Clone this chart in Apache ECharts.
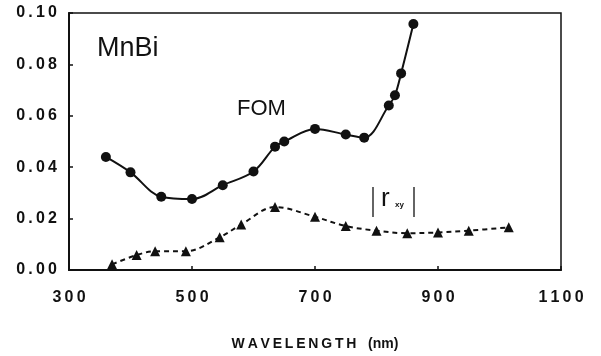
<!DOCTYPE html>
<html><head><meta charset="utf-8">
<script src="https://cdn.jsdelivr.net/npm/echarts@6/dist/echarts.min.js"></script>
<style>html,body{margin:0;padding:0;background:#fff}#c{width:601px;height:356px}</style>
</head><body><div id="c"></div>
<script>
var fomWavelength = [360, 400, 450, 500, 550, 600, 635, 650, 700, 750, 780, 820, 830, 840, 860];
var fomValues = [0.044, 0.038, 0.0285, 0.0276, 0.033, 0.0383, 0.048, 0.050, 0.0549, 0.0527, 0.0515, 0.064, 0.068, 0.0765, 0.0957];
var rxyWavelength = [370, 410, 440, 490, 545, 580, 635, 700, 750, 800, 850, 900, 950, 1015];
var rxyValues = [0.0022, 0.0058, 0.0073, 0.0073, 0.0127, 0.0177, 0.0245, 0.0207, 0.0171, 0.0153, 0.0143, 0.0146, 0.0153, 0.0166];
var xTicks = [300, 500, 700, 900, 1100];
var yTicks = [0.00, 0.02, 0.04, 0.06, 0.08, 0.10];

function pairs(xs, ys){ return xs.map(function(x,i){return [x, ys[i]];}); }
function spaced(s, sp){ return String(s).split('').join(sp); }
var font = '"Liberation Sans", Arial, sans-serif';
var chart = echarts.init(document.getElementById('c'));
chart.setOption({
  animation: false,
  grid: {left: 69, right: 40, top: 13, bottom: 80, show: true, borderColor: '#111', borderWidth: 1.5},
  xAxis: {
    type: 'value', min: 300, max: 1100, interval: 200,
    axisLine: {show: true, lineStyle: {color: '#111', width: 2}},
    axisTick: {show: true, inside: true, length: 4, lineStyle: {color: '#111', width: 1.5}},
    splitLine: {show: false},
    axisLabel: {color: '#111', fontFamily: font, fontWeight: 'bold', fontSize: 16, margin: 20,
      formatter: function(v){ return xTicks.indexOf(v) >= 0 ? spaced(v, '\u2009') : ''; }},
    name: spaced('WAVELENGTH', '\u2009') + '   (nm)', nameLocation: 'middle', nameGap: 67,
    nameTextStyle: {color: '#111', fontFamily: font, fontWeight: 'bold', fontSize: 14}
  },
  yAxis: {
    type: 'value', min: 0, max: 0.1, interval: 0.02,
    axisLine: {show: true, lineStyle: {color: '#111', width: 2}},
    axisTick: {show: true, inside: true, length: 4, lineStyle: {color: '#111', width: 1.5}},
    splitLine: {show: false},
    axisLabel: {color: '#111', fontFamily: font, fontWeight: 'bold', fontSize: 16, margin: 12,
      formatter: function(v){ return spaced(v.toFixed(2), '\u2009'); }}
  },
  series: [
    {type: 'line', data: pairs(fomWavelength, fomValues), smooth: 0.35,
     symbol: 'circle', symbolSize: 10, itemStyle: {color: '#111'},
     lineStyle: {color: '#111', width: 2}},
    {type: 'line', data: pairs(rxyWavelength, rxyValues), smooth: 0.35,
     symbol: 'triangle', symbolSize: 10, itemStyle: {color: '#111'},
     lineStyle: {color: '#111', width: 2, type: [5, 4]}}
  ],
  graphic: [
    {type: 'text', left: 97, top: 35, style: {text: 'MnBi', font: '27px ' + font, fill: '#111'}},
    {type: 'text', left: 237, top: 98, style: {text: 'FOM', font: '22px ' + font, fill: '#111'}},
    {type: 'line', shape: {x1: 373, y1: 187, x2: 373, y2: 217}, style: {stroke: '#111', lineWidth: 1.3}},
    {type: 'line', shape: {x1: 414, y1: 187, x2: 414, y2: 217}, style: {stroke: '#111', lineWidth: 1.3}},
    {type: 'text', left: 381, top: 186, style: {text: 'r', font: '26px ' + font, fill: '#111'}},
    {type: 'text', left: 395, top: 201, style: {text: 'xy', font: 'bold 8px ' + font, fill: '#111'}}
  ]
});
</script></body></html>
